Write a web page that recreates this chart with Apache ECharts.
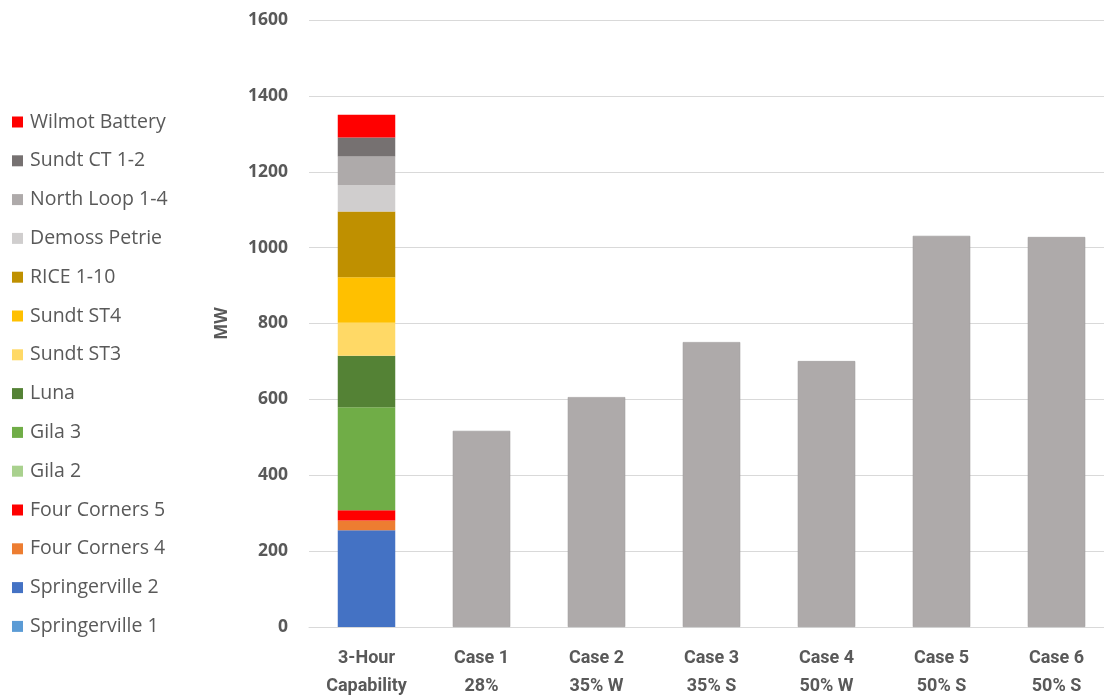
<!DOCTYPE html>
<html>
<head>
<meta charset="utf-8">
<script src="https://cdn.jsdelivr.net/npm/echarts@6/dist/echarts.min.js"></script>
<style>
  html, body { margin: 0; padding: 0; background: #ffffff; }
  #chart { width: 1104px; height: 700px; }
</style>
</head>
<body>
<div id="chart"></div>
<script>
// Category labels along the x axis
const categories = ['3-Hour\nCapability', 'Case 1\n28%', 'Case 2\n35% W', 'Case 3\n35% S', 'Case 4\n50% W', 'Case 5\n50% S', 'Case 6\n50% S'];

// Generating units making up the 3-hour capability (bottom to top), MW
const unitNames = ['Springerville 1', 'Springerville 2', 'Four Corners 4', 'Four Corners 5', 'Gila 2', 'Gila 3', 'Luna', 'Sundt ST3', 'Sundt ST4', 'RICE 1-10', 'Demoss Petrie', 'North Loop 1-4', 'Sundt CT 1-2', 'Wilmot Battery'];
const unitMW = [0, 255, 26, 27, 0, 271, 136, 87, 120, 173, 70, 75, 50, 60];
const unitColors = ['#5B9BD5', '#4472C4', '#ED7D31', '#FF0000', '#A9D18E', '#70AD47', '#548235', '#FFD966', '#FFC000', '#BF9000', '#D0CECE', '#AEAAAA', '#767171', '#FF0000'];

// Requirement for each case, MW
const caseMW = [517, 606, 751, 701, 1031, 1028];

// Y axis range
const yMin = 0, yMax = 1600, yStep = 200;

const series = unitNames.map((name, i) => ({
  name: name,
  type: 'bar',
  stack: 'total',
  barWidth: '50%',
  itemStyle: { color: unitColors[i] },
  data: categories.map((c, j) => (j === 0 ? unitMW[i] : '-'))
}));

series.push({
  name: 'Case',
  type: 'bar',
  stack: 'total',
  barWidth: '50%',
  itemStyle: { color: '#AEAAAA', borderColor: '#9C9898', borderWidth: 0.6 },
  data: ['-'].concat(caseMW)
});

const chart = echarts.init(document.getElementById('chart'));
chart.setOption({
  animation: false,
  backgroundColor: '#ffffff',
  // plot area runs slightly past the right edge of the canvas
  grid: { left: 309, width: 805, top: 20, bottom: 73, containLabel: false, outerBoundsMode: 'none' },
  legend: {
    orient: 'vertical',
    left: 7,
    top: 106,
    itemWidth: 11,
    itemHeight: 11,
    itemGap: 16.8,
    icon: 'rect',
    data: unitNames.slice().reverse(),
    textStyle: { fontFamily: 'Open Sans', fontSize: 19.5, color: '#595959', lineHeight: 22, padding: [0, 0, 0, 2] }
  },
  xAxis: {
    type: 'category',
    data: categories,
    axisLine: { lineStyle: { color: '#D9D9D9', width: 1 } },
    axisTick: { show: false },
    axisLabel: {
      interval: 0,
      margin: 17,
      fontFamily: 'Liberation Sans Narrow, Roboto, sans-serif',
      fontWeight: 'bold',
      fontSize: 18,
      lineHeight: 28,
      color: '#595959'
    }
  },
  yAxis: {
    type: 'value',
    min: yMin,
    max: yMax,
    interval: yStep,
    name: 'MW',
    nameLocation: 'middle',
    nameGap: 78,
    nameRotate: 90,
    nameTextStyle: { fontFamily: 'Open Sans', fontWeight: 'bold', fontSize: 17, color: '#595959' },
    axisLine: { show: false },
    axisTick: { show: false },
    axisLabel: {
      margin: 21,
      fontFamily: 'Open Sans',
      fontWeight: 'bold',
      fontSize: 17.5,
      color: '#595959',
      formatter: (v) => String(v)
    },
    splitLine: { lineStyle: { color: '#D9D9D9', width: 1 } }
  },
  series: series
});
</script>
</body>
</html>
